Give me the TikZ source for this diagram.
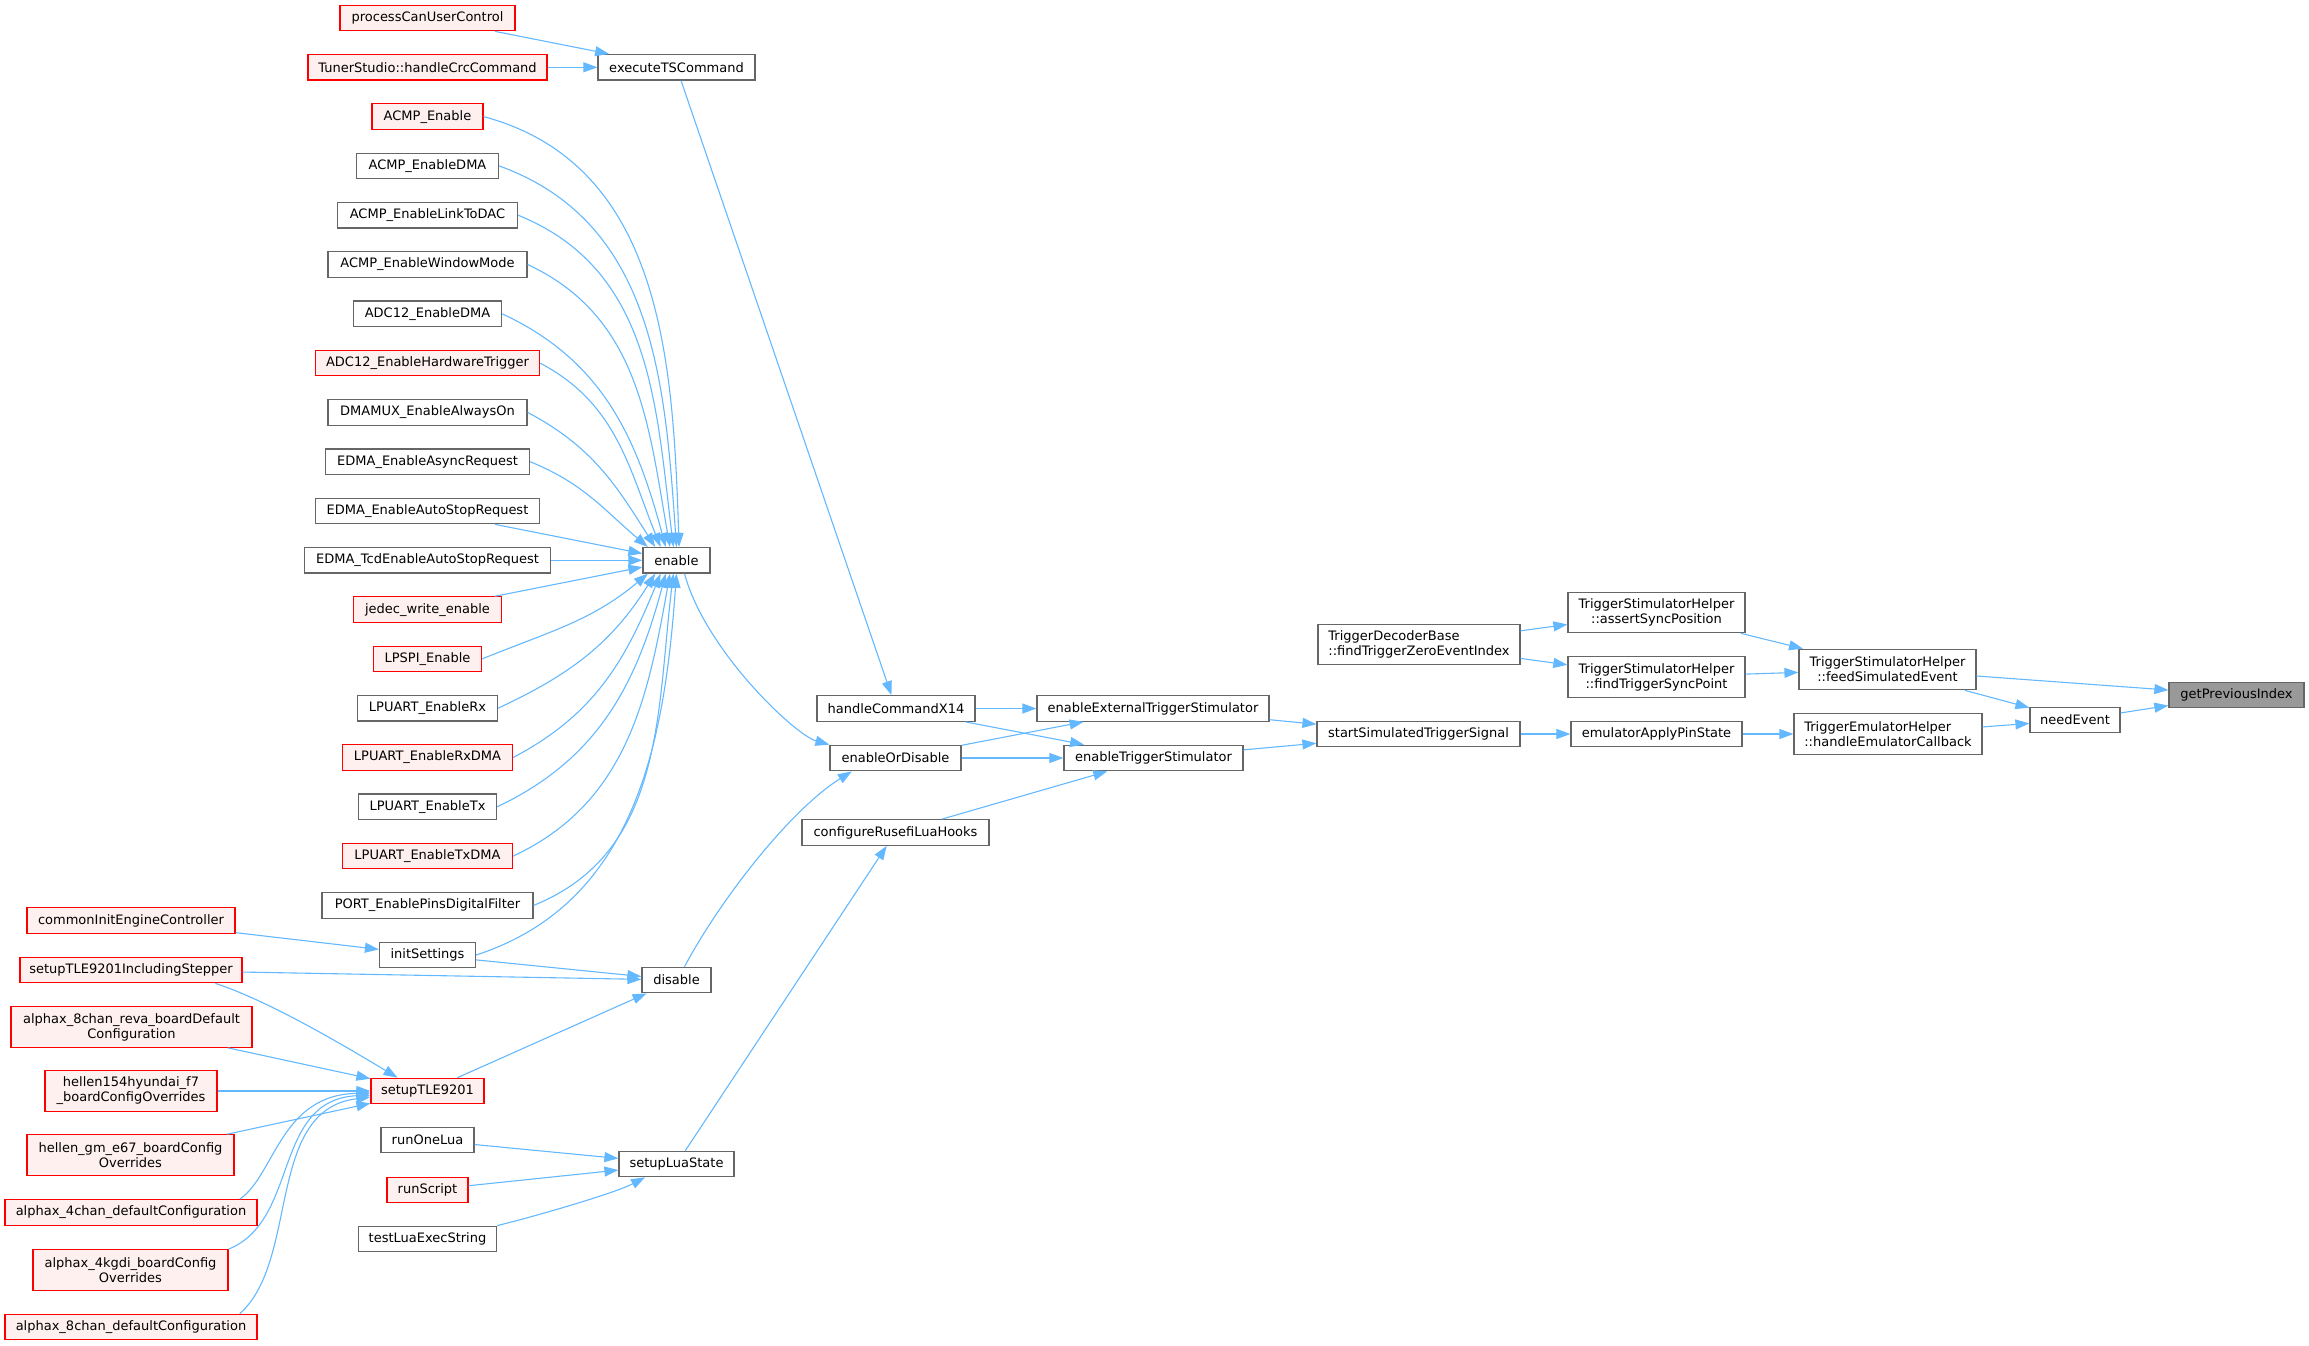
\documentclass[tikz,border=0pt]{standalone}
\usepackage{fontspec}
\setmainfont{DejaVu Sans}
\usetikzlibrary{arrows.meta}
\definecolor{edgec}{HTML}{63B8FF}
\definecolor{boxc}{HTML}{666666}
\definecolor{redfill}{HTML}{FFF0F0}
\definecolor{hlfill}{HTML}{999999}
\newcommand{\fnt}{\fontsize{6.5}{7.5}\selectfont}
\tikzset{
  fn/.style={draw=boxc, fill=white, line width=0.6pt, inner sep=0pt, font=\fnt, minimum height=12.75pt},
  fnr/.style={fn, draw=red, fill=redfill},
  two/.style={minimum height=20.25pt, align=center},
  twol/.style={minimum height=20.25pt, align=left},
  bw/.style={minimum width=#1*0.5pt},
  edge/.style={draw=edgec, line width=0.55pt, -{Triangle[length=7pt,width=5pt]}}
}
\begin{document}
\begin{tikzpicture}[x=0.5pt,y=-0.5pt]
\useasboundingbox (0,0) rectangle (2309,1345);
% left column
\node[fnr,bw=175] (pcuc) at (427.5,18) {processCanUserControl};
\node[fnr,bw=239] (tscrc) at (427.5,67.3) {TunerStudio::handleCrcCommand};
\node[fn,bw=157] (execTS) at (676.5,67.3) {executeTSCommand};
\node[fnr,bw=111] (acmpE) at (427.5,116.6) {ACMP\_Enable};
\node[fn,bw=142] (acmpDMA) at (427.5,165.9) {ACMP\_EnableDMA};
\node[fn,bw=180] (acmpDAC) at (427.5,215.2) {ACMP\_EnableLinkToDAC};
\node[fn,bw=199] (acmpWin) at (427.5,264.5) {ACMP\_EnableWindowMode};
\node[fn,bw=148] (adcDMA) at (427.5,313.8) {ADC12\_EnableDMA};
\node[fnr,bw=224] (adcHW) at (427.5,363.1) {ADC12\_EnableHardwareTrigger};
\node[fn,bw=199] (dmamux) at (427.5,412.4) {DMAMUX\_EnableAlwaysOn};
\node[fn,bw=204] (edmaAsync) at (427.5,461.7) {EDMA\_EnableAsyncRequest};
\node[fn,bw=224] (edmaAuto) at (427.5,511) {EDMA\_EnableAutoStopRequest};
\node[fn,bw=246] (edmaTcd) at (427.5,560.3) {EDMA\_TcdEnableAutoStopRequest};
\node[fn,bw=67] (enable) at (676.5,560.3) {enable};
\node[fnr,bw=148] (jedec) at (427.5,609.6) {jedec\_write\_enable};
\node[fnr,bw=108] (lpspi) at (427.5,658.9) {LPSPI\_Enable};
\node[fn,bw=140] (lpRx) at (427.5,708.2) {LPUART\_EnableRx};
\node[fnr,bw=170] (lpRxDMA) at (427.5,757.5) {LPUART\_EnableRxDMA};
\node[fn,bw=138] (lpTx) at (427.5,806.8) {LPUART\_EnableTx};
\node[fnr,bw=170] (lpTxDMA) at (427.5,856.1) {LPUART\_EnableTxDMA};
\node[fn,bw=211] (port) at (427.5,905.4) {PORT\_EnablePinsDigitalFilter};
\node[fn,bw=96] (initS) at (427.5,955) {initSettings};
\node[fnr,bw=208] (commonInit) at (131,920.5) {commonInitEngineController};
\node[fnr,bw=222] (tleStep) at (131,970) {setupTLE9201IncludingStepper};
\node[fn,bw=69] (disable) at (676.5,980) {disable};
\node[fnr,bw=241,two] (alphaReva) at (131.5,1027) {alphax\_8chan\_reva\_boardDefault\\Configuration};
\node[fnr,bw=172,two] (hellen154) at (131,1091) {hellen154hyundai\_f7\\\_boardConfigOverrides};
\node[fnr,bw=113] (setupTLE) at (427.5,1091) {setupTLE9201};
\node[fnr,bw=207,two] (hellenGM) at (130.5,1155) {hellen\_gm\_e67\_boardConfig\\Overrides};
\node[fn,bw=93] (runOneLua) at (427.5,1140) {runOneLua};
\node[fn,bw=115] (setupLua) at (676.5,1164) {setupLuaState};
\node[fnr,bw=81] (runScript) at (427.5,1190) {runScript};
\node[fnr,bw=252] (alpha4chan) at (131,1212.5) {alphax\_4chan\_defaultConfiguration};
\node[fn,bw=138] (testLua) at (427.5,1239) {testLuaExecString};
\node[fnr,bw=195,two] (alpha4kgdi) at (130.5,1270) {alphax\_4kgdi\_boardConfig\\Overrides};
\node[fnr,bw=252] (alpha8chan) at (131,1327) {alphax\_8chan\_defaultConfiguration};
% middle and right
\node[fn,bw=158] (hx14) at (896,708.5) {handleCommandX14};
\node[fn,bw=131] (enOrDis) at (895.5,758) {enableOrDisable};
\node[fn,bw=187] (configLua) at (895.5,832.5) {configureRusefiLuaHooks};
\node[fn,bw=232] (enExt) at (1153,708.5) {enableExternalTriggerStimulator};
\node[fn,bw=179] (enTrig) at (1153.5,758) {enableTriggerStimulator};
\node[fn,bw=203] (startSim) at (1418.5,734) {startSimulatedTriggerSignal};
\node[fn,bw=202,twol] (trigDec) at (1419,644.5) {TriggerDecoderBase\\::findTriggerZeroEventIndex};
\node[fn,bw=177,two] (assertSync) at (1656.5,612.5) {TriggerStimulatorHelper\\::assertSyncPosition};
\node[fn,bw=177,two] (findSync) at (1656.5,677) {TriggerStimulatorHelper\\::findTriggerSyncPoint};
\node[fn,bw=171] (emuApply) at (1656.5,734) {emulatorApplyPinState};
\node[fn,bw=177,two] (feedSim) at (1887.5,669.5) {TriggerStimulatorHelper\\::feedSimulatedEvent};
\node[fn,bw=188,twol] (handleEmu) at (1888,734) {TriggerEmulatorHelper\\::handleEmulatorCallback};
\node[fn,bw=90] (needEvent) at (2075,720) {needEvent};
\node[fn,bw=135,fill=hlfill] (getPrev) at (2236.5,695) {getPreviousIndex};
% edges
\draw[edge] (pcuc) -- (execTS);
\draw[edge] (tscrc) -- (execTS);
\draw[edge] (execTS) -- (hx14);
\draw[edge] (acmpE.east) .. controls +(179,48) and +(-6,-185) .. (enable.79);
\draw[edge] (acmpDMA.east) .. controls +(155,56) and +(-11.5,-165) .. (enable.90);
\draw[edge] (acmpDAC.east) .. controls +(133.5,54) and +(-17.5,-143) .. (enable.103);
\draw[edge] (acmpWin.east) .. controls +(112,52) and +(-21.5,-122) .. (enable.116);
\draw[edge] (adcDMA.east) .. controls +(101.5,47) and +(-29,-108) .. (enable.129);
\draw[edge] (adcHW.east) .. controls +(76,40) and +(-32,-80) .. (enable.140);
\draw[edge] (dmamux.east) .. controls +(64.5,34) and +(-39,-62) .. (enable.148);
\draw[edge] (edmaAsync.east) .. controls +(54,22) and +(-44,-37) .. (enable.155);
\draw[edge] (edmaAuto) -- (enable);
\draw[edge] (edmaTcd) -- (enable);
\draw[edge] (jedec) -- (enable);
\draw[edge] (lpspi.east) .. controls +(68,-27.5) and +(-56,47) .. (enable.205);
\draw[edge] (lpRx.east) .. controls +(73,-34) and +(-43,69) .. (enable.212);
\draw[edge] (lpRxDMA.east) .. controls +(82,-43) and +(-35,86) .. (enable.220);
\draw[edge] (lpTx.east) .. controls +(102,-48) and +(-29,109) .. (enable.231);
\draw[edge] (lpTxDMA.east) .. controls +(114,-53) and +(-22,124) .. (enable.244);
\draw[edge] (port.east) .. controls +(131,-53) and +(-17,140) .. (enable.257);
\draw[edge] (initS.east) .. controls +(160,-52) and +(-12,168) .. (enable.270);
\draw[edge] (commonInit) -- (initS);
\draw[edge] (initS) -- (disable);
\draw[edge] (tleStep) -- (disable);
\draw[edge] (setupTLE) -- (disable);
\draw[edge] (tleStep.-9) .. controls +(55,18) and +(-50,-30) .. (setupTLE.156);
\draw[edge] (alphaReva) -- (setupTLE);
\draw[edge] (hellen154) -- (setupTLE);
\draw[edge] (hellenGM) -- (setupTLE);
\draw[edge] (alpha4chan.7) .. controls (275,1175) and (280,1095) .. (setupTLE.182);
\draw[edge] (alpha4kgdi.north east) .. controls (300,1220) and (272,1100) .. (setupTLE.184);
\draw[edge] (alpha8chan.7) .. controls (300,1260) and (265,1110) .. (setupTLE.186);
\draw[edge] (runOneLua) -- (setupLua);
\draw[edge] (runScript) -- (setupLua);
\draw[edge] (testLua.north east) .. controls (540,1215) and (615,1193) .. (setupLua.203);
\draw[edge] (setupLua) -- (configLua);
\draw[edge] (enable.-59) .. controls (705,650) and (795,735) .. (enOrDis.north west);
\draw[edge] (disable.59) .. controls (720,900) and (790,810) .. (enOrDis.197);
\draw[edge] (configLua) -- (enTrig);
\draw[edge] (hx14) -- (enExt);
\draw[edge] (hx14) -- (enTrig);
\draw[edge] (enOrDis) -- (enExt);
\draw[edge] (enOrDis) -- (enTrig);
\draw[edge] (enExt) -- (startSim);
\draw[edge] (enTrig) -- (startSim);
\draw[edge] (startSim) -- (emuApply);
\draw[edge] (emuApply) -- (handleEmu);
\draw[edge] (trigDec) -- (assertSync);
\draw[edge] (trigDec) -- (findSync);
\draw[edge] (assertSync) -- (feedSim);
\draw[edge] (findSync) -- (feedSim);
\draw[edge] (feedSim) -- (getPrev);
\draw[edge] (feedSim) -- (needEvent);
\draw[edge] (handleEmu) -- (needEvent);
\draw[edge] (needEvent) -- (getPrev);
\end{tikzpicture}
\end{document}
